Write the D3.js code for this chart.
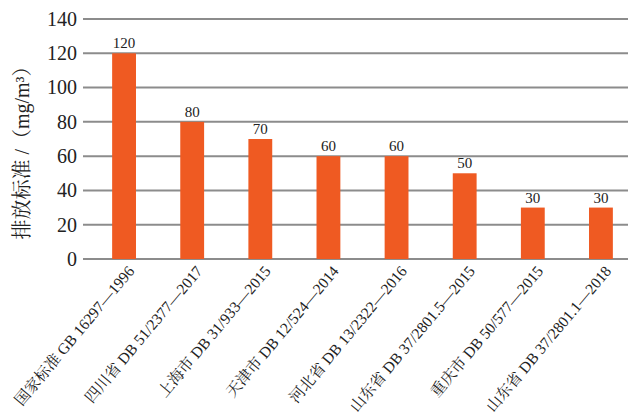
<!DOCTYPE html>
<html><head><meta charset="utf-8">
<script src="https://cdn.jsdelivr.net/npm/d3@7"></script>
<style>
html,body{margin:0;padding:0;background:#fff;}
svg{display:block;}
</style></head>
<body>
<svg id="chart" width="636" height="420"></svg>
<script>
const categories = ["国家标准 GB 16297—1996","四川省 DB 51/2377—2017","上海市 DB 31/933—2015","天津市 DB 12/524—2014","河北省 DB 13/2322—2016","山东省 DB 37/2801.5—2015","重庆市 DB 50/577—2015","山东省 DB 37/2801.1—2018"];
const values = [120, 80, 70, 60, 60, 50, 30, 30];
const yTicks = [0, 20, 40, 60, 80, 100, 120, 140];
const yTitle = "排放标准 /（mg/m³）";

const svg = d3.select("#chart");
const font = "'Liberation Serif','Times New Roman','Noto Serif CJK SC','Noto Sans CJK SC',serif";
const gridLeft = 83, gridRight = 628;
const y = d3.scaleLinear().domain([0, 140]).range([259, 19]);
const x = d3.scaleBand().domain(categories).range([90, 635]).paddingInner(0.65).paddingOuter(0.325);

// grid lines
const grid = svg.append("g");
grid.selectAll("line").data(yTicks).join("line")
  .attr("x1", gridLeft).attr("x2", gridRight)
  .attr("y1", d => y(d)).attr("y2", d => y(d))
  .attr("stroke", "#8c8c8c").attr("stroke-width", 2);

// y axis labels
const yAxis = d3.axisLeft(y).tickValues(yTicks).tickSize(0).tickPadding(6);
const ya = svg.append("g").attr("transform", `translate(${gridLeft},0)`).call(yAxis);
ya.select(".domain").remove();
ya.selectAll("text").attr("font-family", font).attr("font-size", 20).attr("fill", "#222");

// bars
svg.append("g").selectAll("rect").data(values).join("rect")
  .attr("x", (d, i) => x(categories[i]))
  .attr("width", x.bandwidth())
  .attr("y", d => y(d))
  .attr("height", d => y(0) - y(d))
  .attr("fill", "#EF5A22");

// value labels
svg.append("g").selectAll("text").data(values).join("text")
  .attr("x", (d, i) => x(categories[i]) + x.bandwidth() / 2)
  .attr("y", d => y(d) - 5)
  .attr("text-anchor", "middle")
  .attr("font-family", font).attr("font-size", 15).attr("fill", "#222")
  .text(d => d);

// x labels
svg.append("g").selectAll("text").data(categories).join("text")
  .attr("transform", d => `translate(${x(d) + x.bandwidth() / 2 + 7},${268}) rotate(-50)`)
  .attr("text-anchor", "end")
  .attr("dy", "0.35em")
  .attr("font-family", font).attr("font-size", 15.5).attr("fill", "#222")
  .text(d => d);

// y title
svg.append("text")
  .attr("transform", `translate(29,${148}) rotate(-90)`)
  .attr("text-anchor", "middle")
  .attr("font-family", font).attr("font-size", 20).attr("fill", "#222")
  .text(yTitle);
</script>
</body></html>
